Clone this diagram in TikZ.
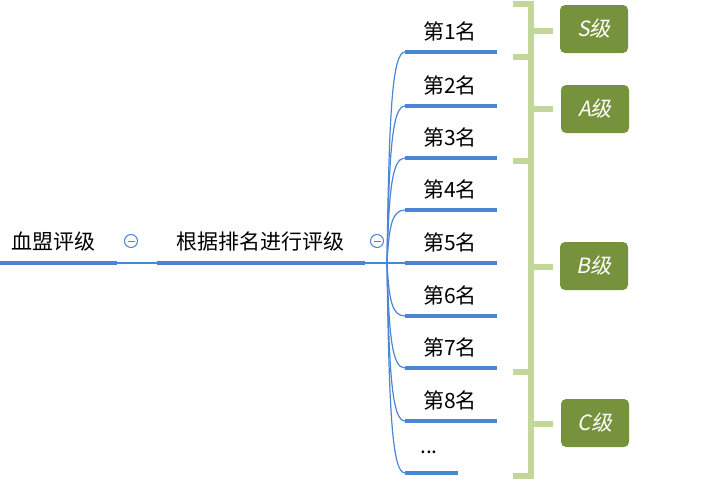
\documentclass[tikz,border=0pt]{standalone}
\usepackage{fontspec}
\setmainfont{Noto Sans CJK SC}
\newfontfamily\boxfont{Noto Sans CJK SC}[FakeSlant=0.2]
\definecolor{lineblue}{HTML}{4A86D4}
\definecolor{brk}{HTML}{C4D79B}
\definecolor{boxgreen}{HTML}{76923C}
\begin{document}
\begin{tikzpicture}[x=1pt,y=-1pt,
  lbl/.style={inner sep=0pt,anchor=center,font=\fontsize{21}{21}\selectfont,text=black},
  ul/.style={draw=lineblue,line width=3.6pt},
  conn/.style={draw=lineblue,line width=1.2pt},
  brace/.style={draw=brk,line width=6pt},
  gbox/.style={fill=boxgreen,rounded corners=5pt,minimum width=68pt,minimum height=48pt,inner sep=0pt,text=white,font=\fontsize{21}{21}\selectfont\boxfont},
  fold/.style={draw=lineblue,line width=1pt,circle,minimum size=13pt,inner sep=0pt}]
\useasboundingbox (0,0) rectangle (720,479);
% root
\node[lbl] (root) at (54,242) {血盟评级};
\coordinate (rootL) at (0,263);
\coordinate (rootR) at (117,263);
\draw[ul] (rootL) -- (rootR);
\node[fold] (f1) at (131,241) {};
\draw[lineblue,line width=1pt] ([xshift=-3.5pt]f1.center) -- ([xshift=3.5pt]f1.center);
% second node
\node[lbl] (mid) at (260,242) {根据排名进行评级};
\coordinate (midL) at (157,263);
\coordinate (midR) at (365,263);
\draw[conn] (rootR) -- (midL);
\draw[ul] (midL) -- (midR);
\node[fold] (f2) at (377,241) {};
\draw[lineblue,line width=1pt] ([xshift=-3.5pt]f2.center) -- ([xshift=3.5pt]f2.center);
\coordinate (fork) at (387,263);
\draw[conn] (midR) -- (fork);
% children
\foreach \i/\y/\t in {1/52/第1名,2/106/第2名,3/158/第3名,4/210/第4名,5/263/第5名,6/316/第6名,7/368/第7名,8/421/第8名}{
  \coordinate (c\i) at (405,\y);
  \coordinate (e\i) at (497,\y);
  \node[lbl] (n\i) at (450,\y-21) {\t};
  \draw[conn] (fork) .. controls (389,{\y+0.3*(263-\y)}) and (392,\y) .. (c\i);
  \draw[ul] (c\i) -- (e\i);
}
\coordinate (c9) at (405,473);
\coordinate (e9) at (458,473);
\node[lbl] (n9) at (429,452) {...};
\draw[conn] (fork) .. controls (389,{473-0.3*210}) and (392,473) .. (c9);
\draw[ul] (c9) -- (e9);
% brackets
\foreach \k/\a/\b in {1/4/57,2/57/161,3/161/372,4/372/476}{
  \coordinate (bt\k) at (513,\a);
  \coordinate (bb\k) at (513,\b);
  \coordinate (bm\k) at (531,{(\a+\b)/2});
  \coordinate (bs\k) at (553,{(\a+\b)/2});
  \draw[brace] (bt\k) -- (531,\a) -- (531,\b) -- (bb\k);
  \draw[brace] (bm\k) -- (bs\k);
}
% grade boxes
\node[gbox] (gS) at (594,29) {S级};
\node[gbox] (gA) at (595,109) {A级};
\node[gbox] (gB) at (594,266) {B级};
\node[gbox] (gC) at (595,423) {C级};
\end{tikzpicture}
\end{document}
